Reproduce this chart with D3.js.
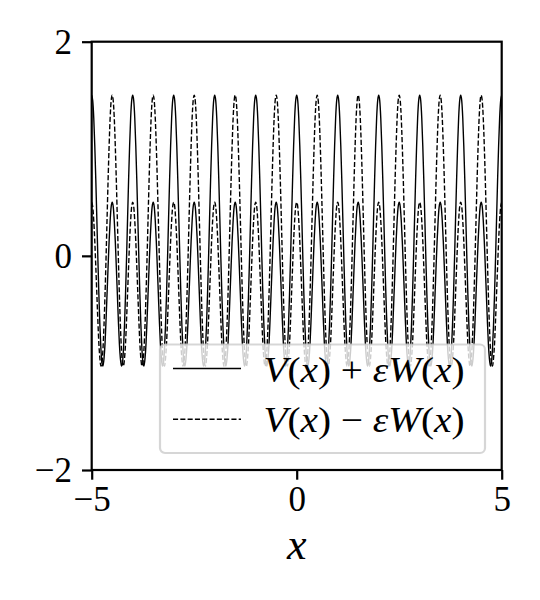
<!DOCTYPE html>
<html>
<head>
<meta charset="utf-8">
<script src="https://cdn.jsdelivr.net/npm/d3@7"></script>
<style>
  body { margin: 0; background: #fff; }
  svg { display: block; }
</style>
</head>
<body>
<div id="chart"></div>
<script>
// Axis ranges and ticks
const xDomain = [-5, 5];
const yDomain = [-2, 2];
const xTicks = [-5, 0, 5];
const yTicks = [-2, 0, 2];

// One period of the curve around a tall peak
// (offset from peak, value); the other half is the mirror image
const profileOffsets = [0, 0.025, 0.05, 0.075, 0.1, 0.125, 0.15, 0.175, 0.2, 0.225, 0.25,
                        0.275, 0.3, 0.325, 0.35, 0.375, 0.4, 0.425, 0.45, 0.475, 0.5];
const profileValues = [1.50, 1.45, 1.29, 1.03, 0.71, 0.35, -0.02, -0.36, -0.65, -0.87, -1.00,
                       -1.03, -0.96, -0.82, -0.60, -0.35, -0.10, 0.14, 0.33, 0.46, 0.50];

// Positions of the tall peaks of each series
const plusPeaks = [-5, -4, -3, -2, -1, 0, 1, 2, 3, 4, 5];
const minusPeaks = [-4.5, -3.5, -2.5, -1.5, -0.5, 0.5, 1.5, 2.5, 3.5, 4.5];

const seriesNames = ['plus', 'minus'];

// Build the point list of a series from its peaks and the period profile
function buildSeries(peaks) {
    const pts = [];
    peaks.forEach(p => {
        for (let i = profileOffsets.length - 1; i > 0; i--) {
            pts.push({ x: p - profileOffsets[i], y: profileValues[i] });
        }
        profileOffsets.forEach((o, i) => {
            pts.push({ x: p + o, y: profileValues[i] });
        });
    });
    pts.sort((a, b) => a.x - b.x);
    return pts.filter((d, i) => d.x >= xDomain[0] - 1e-9 && d.x <= xDomain[1] + 1e-9 &&
                                (i === 0 || Math.abs(d.x - pts[i - 1].x) > 1e-9));
}

function renderChart() {
    const width = 540;
    const height = 600;
    const margin = { top: 41.7, right: 38.3, bottom: 130, left: 91.7 };
    const innerW = width - margin.left - margin.right;
    const innerH = height - margin.top - margin.bottom;
    const lw = 1.39;
    const axisLw = 2.2;
    const tickLen = 9.7;
    const serif = '"Liberation Serif", serif';

    const svg = d3.select('#chart')
                .append('svg')
                .attr('width', width)
                .attr('height', height)
                .style('font-family', serif);

    const g = svg.append('g')
                .attr('transform', 'translate(' + margin.left + ',' + margin.top + ')');

    const x = d3.scaleLinear().domain(xDomain).range([0, innerW]);
    const y = d3.scaleLinear().domain(yDomain).range([innerH, 0]);

    g.append('clipPath')
        .attr('id', 'plot-clip')
        .append('rect')
        .attr('width', innerW)
        .attr('height', innerH);

    const line = d3.line()
                .x(d => x(d.x))
                .y(d => y(d.y))
                .curve(d3.curveMonotoneX);

    const data = {
        plus: buildSeries(plusPeaks),
        minus: buildSeries(minusPeaks)
    };
    const dashes = { plus: null, minus: '5.1,2.2' };

    seriesNames.forEach(name => {
        g.append('path')
            .datum(data[name])
            .attr('clip-path', 'url(#plot-clip)')
            .attr('fill', 'none')
            .attr('stroke', '#000')
            .attr('stroke-width', lw)
            .attr('stroke-dasharray', dashes[name])
            .attr('d', line);
    });

    // Axes
    const fmt = d => d < 0 ? '\u2212' + Math.abs(d) : d;
    const xAxis = g.append('g')
                .attr('transform', 'translate(0,' + innerH + ')')
                .call(d3.axisBottom(x).tickValues(xTicks).tickSize(tickLen).tickPadding(6).tickFormat(fmt));
    const yAxis = g.append('g')
                .call(d3.axisLeft(y).tickValues(yTicks).tickSize(tickLen).tickPadding(10).tickFormat(fmt));

    [xAxis, yAxis].forEach(ax => {
        ax.attr('font-family', null).attr('font-size', null);
        ax.select('.domain').remove();
        ax.selectAll('.tick line').attr('stroke', '#000').attr('stroke-width', axisLw);
        ax.selectAll('.tick text')
            .style('font-family', serif)
            .style('font-size', '35px')
            .attr('fill', '#000');
    });
    yAxis.selectAll('.tick text').attr('dy', '0.34em');

    // Legend
    const legend = g.append('g').attr('transform', 'translate(' + (160 - margin.left) + ',' + (344.5 - margin.top) + ')');
    legend.append('rect')
        .attr('width', 325)
        .attr('height', 108.5)
        .attr('rx', 5)
        .attr('fill', 'rgba(255,255,255,0.8)')
        .attr('stroke', 'rgba(204,204,204,0.8)')
        .attr('stroke-width', axisLw);

    const labels = {
        plus: [['V', 1], ['(', 0], ['x', 1], [') + ', 0], ['\u03b5W', 1], ['(', 0], ['x', 1], [')', 0]],
        minus: [['V', 1], ['(', 0], ['x', 1], [') \u2212 ', 0], ['\u03b5W', 1], ['(', 0], ['x', 1], [')', 0]]
    };

    seriesNames.forEach((name, i) => {
        const row = legend.append('g').attr('transform', 'translate(0,' + (24 + i * 50.7) + ')');
        row.append('line')
            .attr('x1', 13).attr('x2', 81)
            .attr('stroke', '#000')
            .attr('stroke-width', lw)
            .attr('stroke-dasharray', dashes[name]);
        const t = row.append('text')
            .attr('x', 103.5)
            .attr('y', 13)
            .style('font-family', serif)
            .style('font-size', '36px')
            .attr('textLength', 201)
            .attr('lengthAdjust', 'spacingAndGlyphs');
        labels[name].forEach(part => {
            t.append('tspan')
                .style('font-style', part[1] ? 'italic' : 'normal')
                .text(part[0]);
        });
    });

    // Frame
    g.append('rect')
        .attr('width', innerW)
        .attr('height', innerH)
        .attr('fill', 'none')
        .attr('stroke', '#000')
        .attr('stroke-width', axisLw);

    svg.append('text')
        .attr('x', margin.left + innerW / 2)
        .attr('y', 559)
        .attr('text-anchor', 'middle')
        .style('font-family', serif)
        .style('font-style', 'italic')
        .style('font-size', '44px')
        .text('x');
}

document.addEventListener("DOMContentLoaded", () => { renderChart(); });
</script>
</body>
</html>
